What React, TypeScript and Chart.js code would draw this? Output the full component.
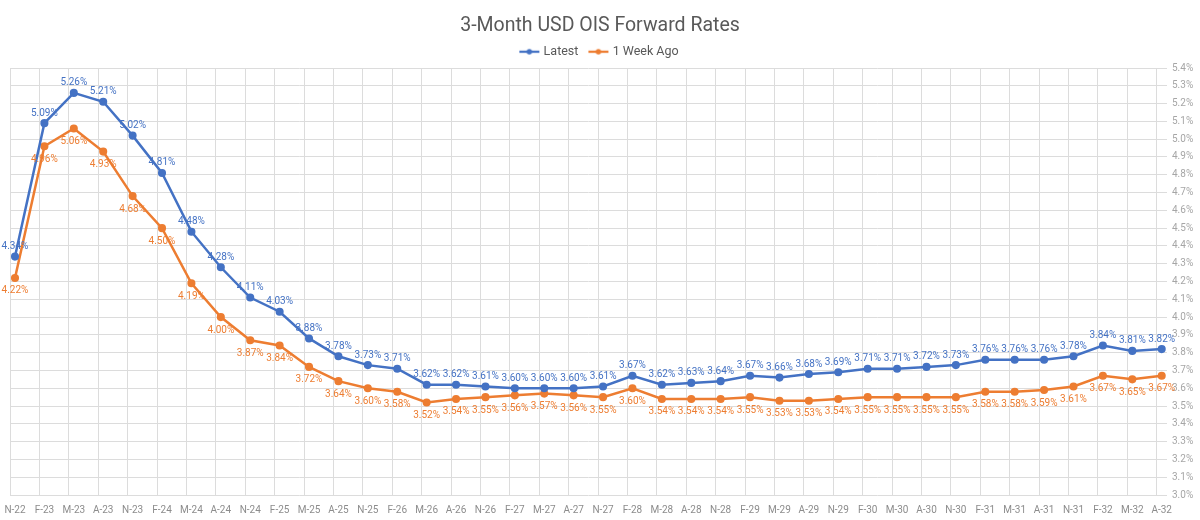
import React, { useEffect, useRef } from "react";
import { Chart, registerables } from "chart.js";

Chart.register(...registerables);

const categories = [
  "N-22", "F-23", "M-23", "A-23", "N-23", "F-24", "M-24", "A-24", "N-24", "F-25",
  "M-25", "A-25", "N-25", "F-26", "M-26", "A-26", "N-26", "F-27", "M-27", "A-27",
  "N-27", "F-28", "M-28", "A-28", "N-28", "F-29", "M-29", "A-29", "N-29", "F-30",
  "M-30", "A-30", "N-30", "F-31", "M-31", "A-31", "N-31", "F-32", "M-32", "A-32",
];

const latest = [
  4.34, 5.09, 5.26, 5.21, 5.02, 4.81, 4.48, 4.28, 4.11, 4.03,
  3.88, 3.78, 3.73, 3.71, 3.62, 3.62, 3.61, 3.60, 3.60, 3.60,
  3.61, 3.67, 3.62, 3.63, 3.64, 3.67, 3.66, 3.68, 3.69, 3.71,
  3.71, 3.72, 3.73, 3.76, 3.76, 3.76, 3.78, 3.84, 3.81, 3.82,
];

const weekAgo = [
  4.22, 4.96, 5.06, 4.93, 4.68, 4.50, 4.19, 4.00, 3.87, 3.84,
  3.72, 3.64, 3.60, 3.58, 3.52, 3.54, 3.55, 3.56, 3.57, 3.56,
  3.55, 3.60, 3.54, 3.54, 3.54, 3.55, 3.53, 3.53, 3.54, 3.55,
  3.55, 3.55, 3.55, 3.58, 3.58, 3.59, 3.61, 3.67, 3.65, 3.67,
];

const yTickLabels = [
  "3.0", "3.1", "3.2", "3.3", "3.4", "3.5", "3.6", "3.7", "3.8", "3.9", "4.0", "4.1", "4.2",
  "4.3", "4.4", "4.5", "4.6", "4.7", "4.8", "4.9", "5.0", "5.1", "5.2", "5.3", "5.4",
];

const seriesNames = ["Latest", "1 Week Ago"];

const BLUE = "#4472C4";
const ORANGE = "#ED7D31";
const FONT = "Roboto";
const GRID = "#dcdcdc";
const X_MIN = -0.17;
const X_MAX = 39.18;
const GRID_SHIFT = 0.17;

function legendMarker(color: string) {
  const c = document.createElement("canvas");
  c.width = 24;
  c.height = 8;
  const ctx = c.getContext("2d")!;
  ctx.strokeStyle = color;
  ctx.lineWidth = 2.25;
  ctx.beginPath();
  ctx.moveTo(2, 4);
  ctx.lineTo(22, 4);
  ctx.stroke();
  ctx.fillStyle = color;
  ctx.beginPath();
  ctx.arc(12, 4, 2.7, 0, Math.PI * 2);
  ctx.fill();
  return c;
}

const dataLabels = {
  id: "dataLabels",
  afterDatasetsDraw(chart: any) {
    const ctx = chart.ctx;
    chart.data.datasets.forEach((ds: any, di: number) => {
      const meta = chart.getDatasetMeta(di);
      ctx.save();
      ctx.font = `10px ${FONT}`;
      ctx.fillStyle = ds.borderColor;
      ctx.textAlign = "center";
      ctx.textBaseline = "middle";
      meta.data.forEach((el: any, i: number) => {
        const v = ds.data[i].y;
        const dy = di === 0 ? -10 : 13;
        ctx.fillText(v.toFixed(2) + "%", el.x, el.y + dy);
      });
      ctx.restore();
    });
  },
};

export default function App() {
  const ref = useRef<HTMLCanvasElement | null>(null);

  useEffect(() => {
    if (!ref.current) return;
    const markers = [legendMarker(BLUE), legendMarker(ORANGE)];
    const chart = new Chart(ref.current, {
      type: "line",
      data: {
        datasets: [
          {
            label: seriesNames[0],
            data: latest.map((v, i) => ({ x: i, y: v })),
            borderColor: BLUE,
            backgroundColor: BLUE,
            pointBackgroundColor: BLUE,
            pointBorderColor: BLUE,
            pointRadius: 2.8,
            borderWidth: 2.5,
            xAxisID: "x",
            yAxisID: "y",
          },
          {
            label: seriesNames[1],
            data: weekAgo.map((v, i) => ({ x: i, y: v })),
            borderColor: ORANGE,
            backgroundColor: ORANGE,
            pointBackgroundColor: ORANGE,
            pointBorderColor: ORANGE,
            pointRadius: 2.8,
            borderWidth: 2.5,
            xAxisID: "x",
            yAxisID: "y",
          },
        ],
      },
      options: {
        animation: false,
        responsive: false,
        layout: { padding: 0 },
        plugins: {
          title: {
            display: true,
            text: "3-Month USD OIS Forward Rates",
            color: "#595959",
            font: { family: FONT, size: 19.5, weight: "normal", lineHeight: 1.0 },
            padding: { top: 6, bottom: -2 },
          },
          legend: {
            position: "top",
            labels: {
              usePointStyle: true,
              pointStyleWidth: 16,
              color: "#595959",
              font: { family: FONT, size: 12.5 },
              padding: 12,
              generateLabels: (c: any) => {
                const items = (Chart.defaults as any).plugins.legend.labels.generateLabels(c);
                return items.map((it: any, i: number) => ({ ...it, pointStyle: markers[i] }));
              },
            },
          },
          tooltip: { enabled: false },
        },
        scales: {
          x: {
            type: "linear",
            position: "bottom",
            min: X_MIN,
            max: X_MAX,
            afterBuildTicks: (axis: any) => {
              axis.ticks = categories.map((_, i) => ({ value: i }));
            },
            afterFit: (axis: any) => {
              axis.height = 25;
              axis.paddingLeft = 10;
              axis.paddingRight = 0;
            },
            ticks: {
              autoSkip: false,
              maxRotation: 0,
              minRotation: 0,
              color: "#8c8c8c",
              font: { family: FONT, size: 10 },
              padding: 9,
              callback: (_v: any, i: number) => categories[i],
            },
            grid: { display: false, drawTicks: false },
            border: { display: false },
          },
          xg: {
            type: "linear",
            position: "bottom",
            min: X_MIN,
            max: X_MAX,
            afterBuildTicks: (axis: any) => {
              axis.ticks = categories.map((_, i) => ({ value: i - GRID_SHIFT }));
            },
            afterFit: (axis: any) => {
              axis.height = 0;
              axis.paddingLeft = 0;
              axis.paddingRight = 0;
            },
            ticks: { display: false },
            grid: { color: GRID, lineWidth: 1, drawTicks: false },
            border: { display: false },
          },
          y: {
            type: "linear",
            position: "right",
            min: 3.0,
            max: 5.4,
            afterBuildTicks: (axis: any) => {
              axis.ticks = yTickLabels.map((s) => ({ value: parseFloat(s) }));
            },
            afterFit: (axis: any) => {
              axis.width = 33;
              axis.paddingTop = 68;
              axis.paddingBottom = 0;
            },
            ticks: {
              color: "#a6a6a6",
              font: { family: FONT, size: 10 },
              padding: 5,
              callback: (_v: any, i: number) => yTickLabels[i] + "%",
            },
            grid: { color: GRID, lineWidth: 1, drawTicks: false },
            border: { display: false },
          },
        } as any,
      },
      plugins: [dataLabels],
    } as any);
    return () => chart.destroy();
  }, []);

  return (
    <div style={{ position: "absolute", left: 0, top: 0, width: 1200, height: 520, background: "#fff" }}>
      <canvas ref={ref} width={1200} height={520} style={{ width: 1200, height: 520 }} />
    </div>
  );
}
